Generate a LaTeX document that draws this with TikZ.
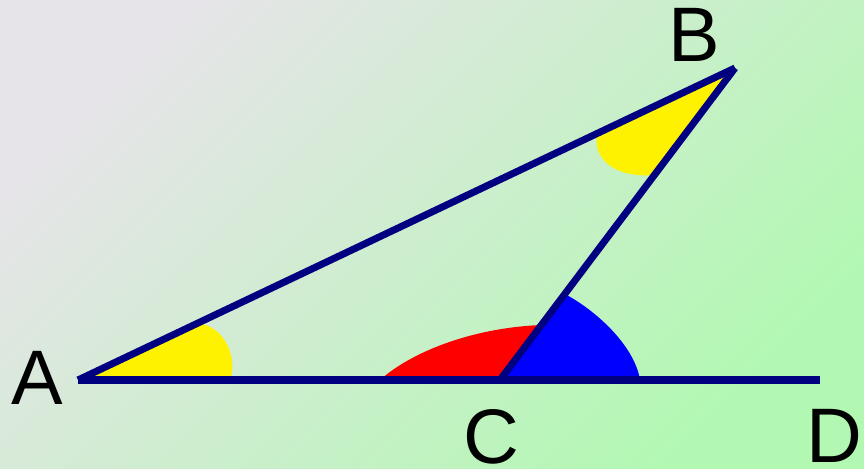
\documentclass[tikz,border=0pt]{standalone}
\usepackage{fontspec}
\setsansfont{Liberation Sans}
\usepackage{tikz}
\usetikzlibrary{calc}
\definecolor{BgTop}{RGB}{230,228,232}
\definecolor{BgBottom}{RGB}{178,248,178}
\definecolor{SideBlue}{RGB}{0,0,128}

\begin{document}
\begin{tikzpicture}[
  x=0.02cm, y=0.02cm,
  font=\fontsize{44}{44}\selectfont\sffamily,
  side/.style={draw=SideBlue, line width=4pt},
  wedge/.style={fill=#1, draw=none},
  vlabel/.style={inner sep=0pt, anchor=center},
]
  \shade[top color=BgTop, bottom color=BgBottom, shading angle=45]
    (0,0) rectangle (864,468);
  \useasboundingbox (0,0) rectangle (864,468);

  \coordinate (A) at (78,88);
  \coordinate (B) at (735,400);
  \coordinate (C) at (500,88);
  \coordinate (D) at (820,88);

  % angle marks
  \fill[wedge=yellow] (A) -- (197,145) .. controls (225,142) and (238,110) .. (230,88) -- cycle;
  \fill[wedge=yellow] (B) -- (597,335) .. controls (592,305) and (620,290) .. (654,293) -- cycle;
  \fill[wedge=red] (C) -- (380,88) .. controls (410,115) and (470,140) .. (541,143) -- cycle;
  \fill[wedge=blue] (C) -- (640,88) .. controls (635,120) and (600,155) .. (565,174) -- cycle;

  \draw[side] (A) -- (B);
  \draw[side] (B) -- (C);
  \draw[side] (A) -- (D);

  \node[vlabel] (labA) at (37,90) {A};
  \node[vlabel] (labB) at (694,433) {B};
  \node[vlabel] (labC) at (491,31) {C};
  \node[vlabel] (labD) at (834,32) {D};
\end{tikzpicture}
\end{document}
